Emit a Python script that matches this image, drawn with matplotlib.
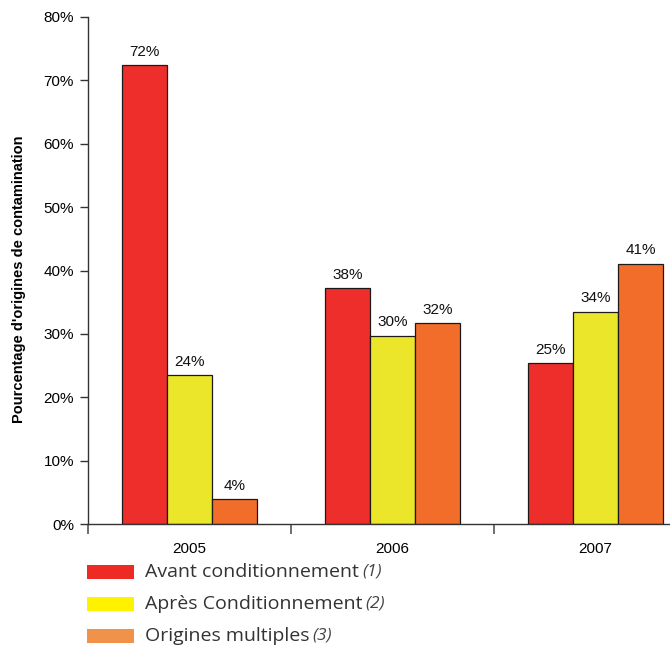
import matplotlib
matplotlib.use("Agg")
import numpy as np
import matplotlib.pyplot as plt
from matplotlib.patches import Rectangle

plt.rcParams['font.family'] = ['Liberation Sans', 'DejaVu Sans']

years = ['2005', '2006', '2007']
series_names = ['Avant conditionnement', 'Après Conditionnement', 'Origines multiples']
series_notes = ['(1)', '(2)', '(3)']
avant = [72.4, 37.2, 25.4]
apres = [23.5, 29.7, 33.5]
multiples = [3.9, 31.7, 41.1]
value_labels = [['72%', '38%', '25%'], ['24%', '30%', '34%'], ['4%', '32%', '41%']]

bar_colors = ['#EE2E2B', '#ECE62A', '#F26D2A']
legend_colors = ['#EE2A24', '#FFF200', '#F0924A']

W, H = 670, 648
fig = plt.figure(figsize=(W / 100, H / 100), dpi=100)
ax = fig.add_axes([88 / W, (H - 524) / H, (697 - 88) / W, (524 - 17) / H])

x = np.arange(len(years))
width = 0.222
for i, vals in enumerate([avant, apres, multiples]):
    pos = x + (i - 1) * width
    ax.bar(pos, vals, width, color=bar_colors[i], edgecolor='#1a1a1a', linewidth=0.9)
    for p, v, lab in zip(pos, vals, value_labels[i]):
        ax.text(p, v + 1.0, lab, ha='center', va='bottom', fontsize=11, color='#111111')

ax.set_xlim(-0.5, 2.5)
ax.set_ylim(0, 80)
ax.set_yticks(np.arange(0, 81, 10))
ax.set_yticklabels(['%d%%' % t for t in range(0, 81, 10)], fontsize=11)
ax.set_xticks(x)
ax.set_xticklabels(years, fontsize=11)
ax.set_xticks([-0.5, 0.5, 1.5, 2.5], minor=True)
ax.tick_params(axis='x', which='major', length=0, pad=13)
ax.tick_params(axis='x', which='minor', length=7, width=1.2, color='#555555', direction='out')
ax.tick_params(axis='y', length=6, width=1, color='#333333', direction='out', pad=4)
for s in ['top', 'right']:
    ax.spines[s].set_visible(False)
for s in ['left', 'bottom']:
    ax.spines[s].set_color('#333333')
    ax.spines[s].set_linewidth(1.0)

fig.text(19 / W, (H - 279) / H, "Pourcentage d'origines de contamination", rotation=90,
         ha='center', va='center', fontsize=10.5, fontweight='bold')

# legend
for i, (name, note) in enumerate(zip(series_names, series_notes)):
    yc = 572 + i * 32
    fig.add_artist(Rectangle((87 / W, (H - yc - 7) / H), 47 / W, 14 / H,
                             transform=fig.transFigure, facecolor=legend_colors[i],
                             edgecolor='none'))
    t = fig.text(145 / W, (H - yc) / H, name, ha='left', va='center',
                 fontsize=14, color='#333333', family=['Open Sans', 'DejaVu Sans'])
    fig.canvas.draw()
    bb = t.get_window_extent()
    fig.text((bb.x1 + 3) / W, (H - yc + 1) / H, note, ha='left', va='center',
             fontsize=12.5, style='italic', color='#444444', family=['Open Sans', 'DejaVu Sans'])

fig.savefig('out.png', dpi=100)
